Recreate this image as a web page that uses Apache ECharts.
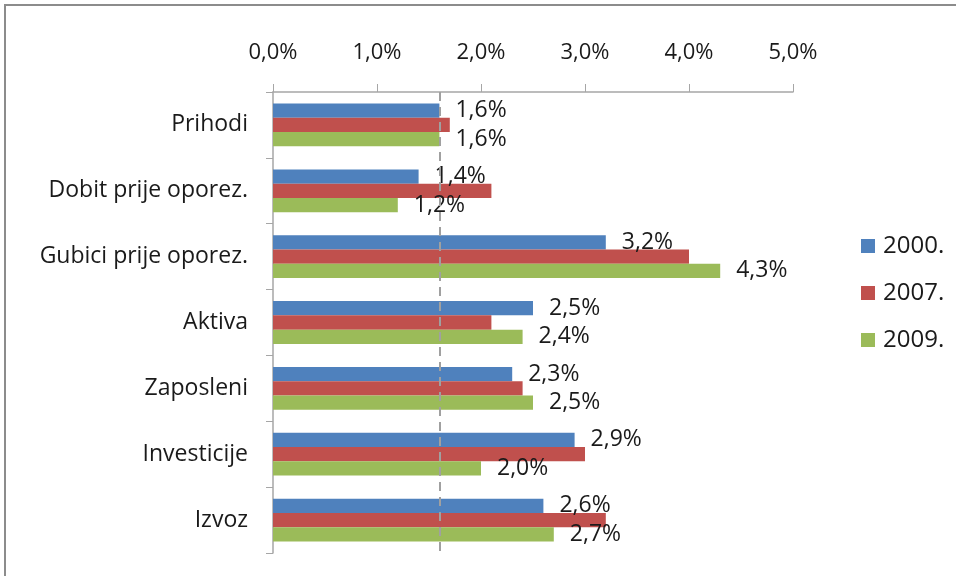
<!DOCTYPE html>
<html>
<head>
<meta charset="utf-8">
<script src="https://cdn.jsdelivr.net/npm/echarts@6/dist/echarts.min.js"></script>
<style>
  html, body { margin: 0; padding: 0; background: #fff; }
  #main { width: 956px; height: 576px; }
</style>
</head>
<body>
<div id="main"></div>
<script>
// kategorije i vrijednosti (%)
var categories = ['Prihodi', 'Dobit prije oporez.', 'Gubici prije oporez.', 'Aktiva', 'Zaposleni', 'Investicije', 'Izvoz']
var years = ['2000.', '2007.', '2009.']
var data2000 = [1.6, 1.4, 3.2, 2.5, 2.3, 2.9, 2.6]
var data2007 = [1.7, 2.1, 4.0, 2.1, 2.4, 3.0, 3.2]
var data2009 = [1.6, 1.2, 4.3, 2.4, 2.5, 2.0, 2.7]
var refLine = 1.6
var xTicks = [0, 1, 2, 3, 4, 5]

var font = 'Open Sans'
function pct(v) {
  return v.toFixed(1).replace('.', ',') + '%'
}
var labelOption = {
  show: true,
  position: 'right',
  distance: 16,
  fontFamily: font,
  fontSize: 23,
  color: '#1a1a1a',
  padding: [3, 0, 0, 0],
  formatter: function(p) { return pct(p.value) }
}

var chart = echarts.init(document.getElementById('main'))
chart.setOption({
  animation: false,
  color: ['#4F81BD', '#C0504D', '#9BBB59'],
  graphic: [{
    type: 'rect',
    shape: { x: 5, y: 5, width: 1000, height: 1000 },
    style: { fill: 'none', stroke: '#8c8c8c', lineWidth: 2 },
    silent: true
  }],
  legend: {
    orient: 'vertical',
    left: 861,
    top: 234,
    padding: 0,
    itemWidth: 14,
    itemHeight: 14,
    itemGap: 23,
    icon: 'rect',
    textStyle: { fontFamily: font, fontSize: 24, color: '#1a1a1a', padding: [0, 0, 0, 3] },
    data: years
  },
  grid: { left: 273, right: 163, top: 92, bottom: 23, containLabel: false },
  xAxis: {
    type: 'value',
    position: 'top',
    min: 0,
    max: 5,
    interval: 1,
    splitLine: { show: false },
    axisLine: { show: true, lineStyle: { color: '#a6a6a6', width: 1.5 } },
    axisTick: { show: true, length: 8, lineStyle: { color: '#a6a6a6' } },
    axisLabel: {
      margin: 28,
      fontFamily: font,
      fontSize: 22,
      color: '#1a1a1a',
      formatter: function(v) { return xTicks.indexOf(v) >= 0 ? pct(v) : '' }
    }
  },
  yAxis: {
    type: 'category',
    inverse: true,
    data: categories,
    axisLine: { show: true, lineStyle: { color: '#a6a6a6', width: 1.5 } },
    axisTick: { show: true, length: 7, lineStyle: { color: '#a6a6a6' } },
    axisLabel: { margin: 25, fontFamily: font, fontSize: 23, color: '#1a1a1a' }
  },
  series: [{
    name: years[0],
    type: 'bar',
    barGap: 0,
    barCategoryGap: '35%',
    label: labelOption,
    data: data2000,
    markLine: {
      silent: true,
      symbol: 'none',
      label: { show: false },
      lineStyle: { color: '#a0a0a0', type: [9, 6], width: 2 },
      data: [{ xAxis: refLine }]
    }
  }, {
    name: years[1],
    type: 'bar',
    data: data2007
  }, {
    name: years[2],
    type: 'bar',
    label: labelOption,
    data: data2009
  }]
})
</script>
</body>
</html>
